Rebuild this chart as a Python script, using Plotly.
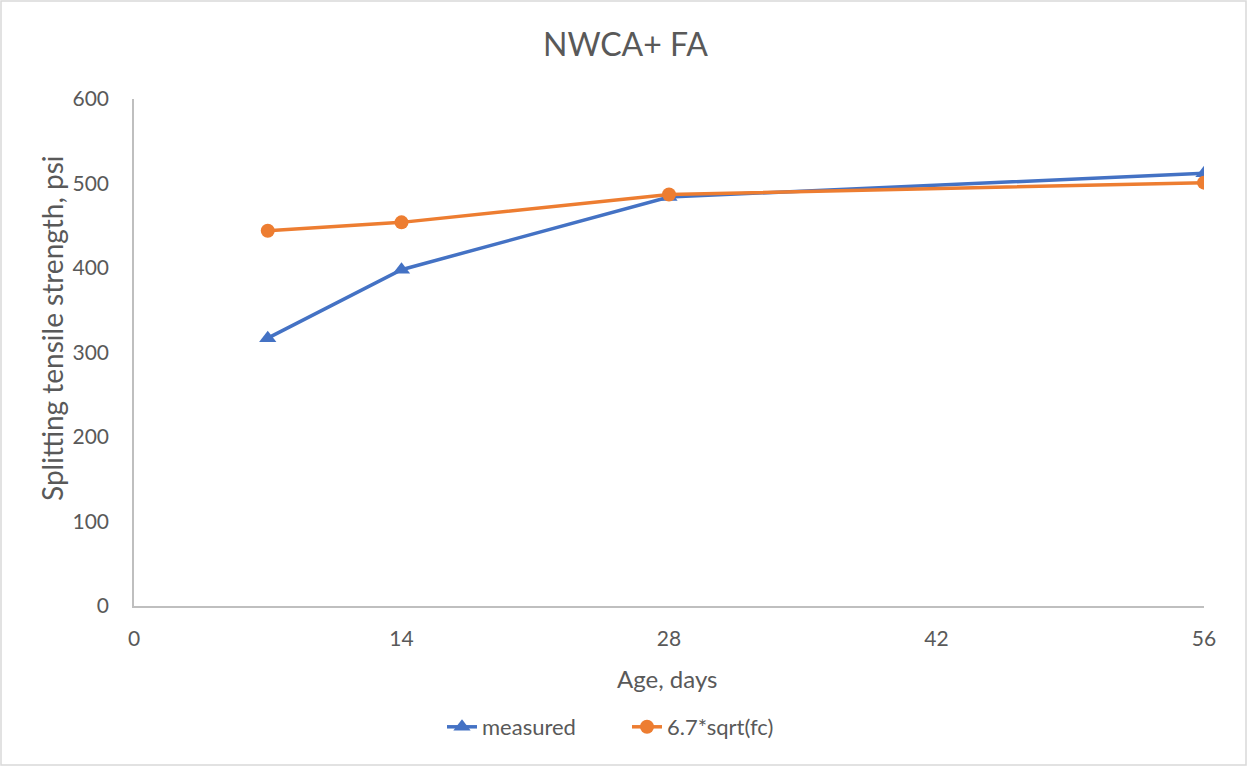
import plotly.graph_objects as go

age_days = [7, 14, 28, 56]
measured = [317, 398, 484, 512]
predicted = [444, 454, 487, 501]
x_ticks = [0, 14, 28, 42, 56]
y_ticks = [0, 100, 200, 300, 400, 500, 600]

W, H = 1247, 769
L, R, T, B = 134, 43, 99, 163
pw, ph = W - L - R, H - T - B


def px(x):
    return (x - L) / pw


def py(y):
    return (H - B - y) / ph


TXT = "#595959"
font = "Lato"

fig = go.Figure()
fig.add_trace(go.Scatter(x=age_days, y=measured, mode="lines+markers", name="measured",
                         line=dict(color="#4472C4", width=3.5),
                         marker=dict(symbol="triangle-up", size=15, color="#4472C4")))
fig.add_trace(go.Scatter(x=age_days, y=predicted, mode="lines+markers", name="6.7*sqrt(fc)",
                         line=dict(color="#ED7D31", width=3.5),
                         marker=dict(symbol="circle", size=14, color="#ED7D31")))

fig.update_layout(
    width=W, height=H,
    margin=dict(l=L, r=R, t=T, b=B),
    paper_bgcolor="white", plot_bgcolor="white",
    font=dict(family=font, color=TXT, size=20),
    xaxis=dict(range=[0, 56], tickvals=x_ticks, showgrid=False, zeroline=False,
               showline=True, linecolor="#BFBFBF", linewidth=1.5,
               ticks="", ticklabelstandoff=13,
               tickfont=dict(size=21, color=TXT)),
    yaxis=dict(range=[0, 600], tickvals=y_ticks, showgrid=False, zeroline=False,
               showline=True, linecolor="#BFBFBF", linewidth=1.5,
               ticks="", ticklabelstandoff=19,
               tickfont=dict(size=21, color=TXT)),
    legend=dict(orientation="h", x=px(627), xanchor="center", y=py(727), yanchor="middle",
                font=dict(size=22, color=TXT), bgcolor="rgba(0,0,0,0)",
                entrywidth=140, entrywidthmode="pixels"),
    showlegend=True,
    annotations=[
        dict(text="NWCA+ FA", xref="paper", yref="paper", x=px(625), y=py(44),
             xanchor="center", yanchor="middle", showarrow=False, font=dict(size=32, color=TXT)),
        dict(text="Age, days", xref="paper", yref="paper", x=px(667), y=py(678),
             xanchor="center", yanchor="middle", showarrow=False, font=dict(size=24, color=TXT)),
        dict(text="Splitting tensile strength, psi", xref="paper", yref="paper", x=px(52), y=py(328),
             xanchor="center", yanchor="middle", textangle=-90, showarrow=False,
             font=dict(size=28, color=TXT)),
    ],
)
fig.add_shape(type="rect", xref="paper", yref="paper",
              x0=px(1), x1=px(1246), y0=py(765), y1=py(1),
              line=dict(color="#D9D9D9", width=1.5), layer="below")

fig.write_html("out.html", config={"displayModeBar": False},
               post_script="document.body.style.margin='0';document.body.style.overflow='hidden';")
